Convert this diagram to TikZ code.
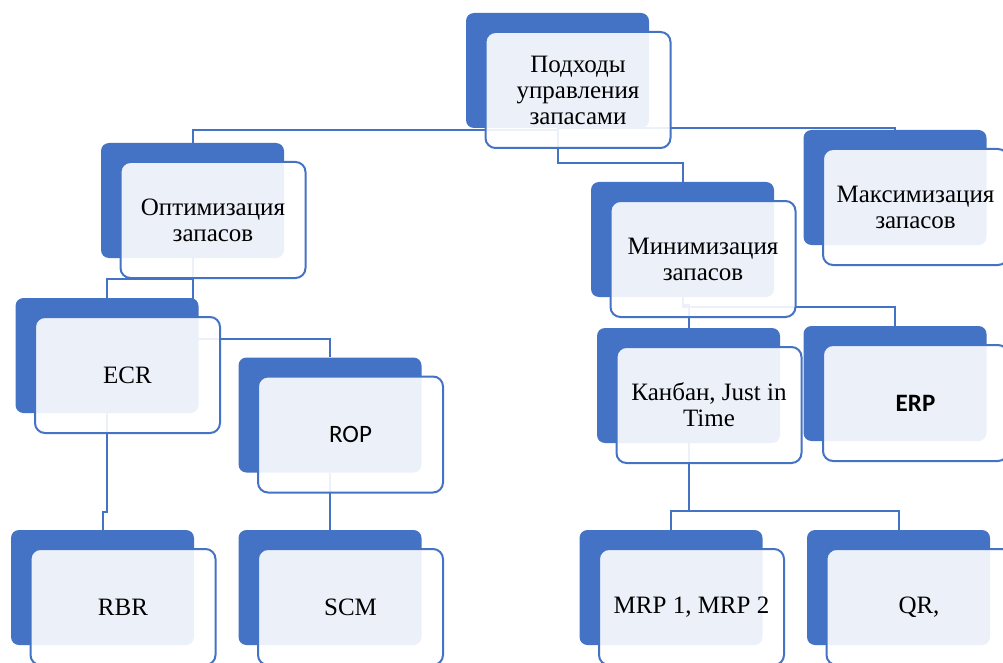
\documentclass[tikz,border=0pt]{standalone}
\usepackage{fontspec}
\setmainfont{Liberation Serif}
\newfontfamily\cfont{Carlito}
\pgfdeclarelayer{bg}
\pgfsetlayers{bg,main}
\definecolor{accent}{HTML}{4472C4}
\begin{document}
\begin{tikzpicture}[x=1pt,y=-1pt,
  back/.style={fill=accent, rounded corners=8pt, minimum width=183pt, minimum height=115pt, inner sep=0pt},
  front/.style={draw=accent, line width=2pt, fill=white, fill opacity=0.9, text opacity=1, rounded corners=10pt, minimum width=185pt, minimum height=116pt, align=center, font=\fontsize{25}{26}\selectfont, inner sep=2pt},
  conn/.style={draw=accent, line width=2pt},
  fo/.style={shift={(20.5,19.5)}}]
\useasboundingbox (0,0) rectangle (1003,663);
\clip (0,0) rectangle (1003,663);
% back boxes
\node[back] (b1) at (557.5,70.5) {};
\node[back] (b2) at (192.5,200.5) {};
\node[back] (b3) at (682.5,239.5) {};
\node[back] (b4) at (895,187.5) {};
\node[back] (b5) at (107,355.5) {};
\node[back] (b6) at (330,415) {};
\node[back] (b7) at (688.5,385.5) {};
\node[back] (b8) at (895,383.5) {};
\node[back] (b9) at (102.5,587.5) {};
\node[back] (b10) at (330,587.5) {};
\node[back] (b11) at (671,587.5) {};
\node[back] (b12) at (898.5,587.5) {};
% front boxes
\node[front] (f1) at ([fo]b1.center) {Подходы\\управления\\запасами};
\node[front] (f2) at ([fo]b2.center) {Оптимизация\\запасов};
\node[front] (f3) at ([fo]b3.center) {Минимизация\\запасов};
\node[front] (f4) at ([fo]b4.center) {Максимизация\\запасов};
\node[front] (f5) at ([fo]b5.center) {ECR};
\node[front] (f6) at ([fo]b6.center) {\cfont ROP};
\node[front] (f7) at ([fo]b7.center) {Канбан, Just in\\Time};
\node[front] (f8) at ([fo]b8.center) {\cfont\bfseries ERP};
\node[front] (f9) at ([fo]b9.center) {RBR};
\node[front] (f10) at ([fo]b10.center) {SCM};
\node[front] (f11) at ([fo]b11.center) {MRP 1, MRP 2};
\node[front] (f12) at ([fo]b12.center) {QR,};
% connectors
\begin{pgfonlayer}{bg}
\draw[conn] (b1.south) -- ++(0,2) -| (b2.north);
\draw[conn] (b1.south) -| (b4.north);
\draw[conn] (b1.south) -- ++(0,35) -| (b3.north);
\draw[conn] (b2.south) -- ++(0,21) -| (b5.north);
\draw[conn] (b2.south) -- ++(0,81) -| (b6.north);
\draw[conn] (b5.south) -- ++(0,99) -| (b9.north);
\draw[conn] (b6.south) -- (b10.north);
\draw[conn] (b3.south) -- ++(0,8) -| (b7.north);
\draw[conn] (b3.south) -- ++(0,10) -| (b8.north);
\draw[conn] (b7.south) -- ++(0,68) -| (b11.north);
\draw[conn] (b7.south) -- ++(0,68) -| (b12.north);
\end{pgfonlayer}
\end{tikzpicture}
\end{document}
